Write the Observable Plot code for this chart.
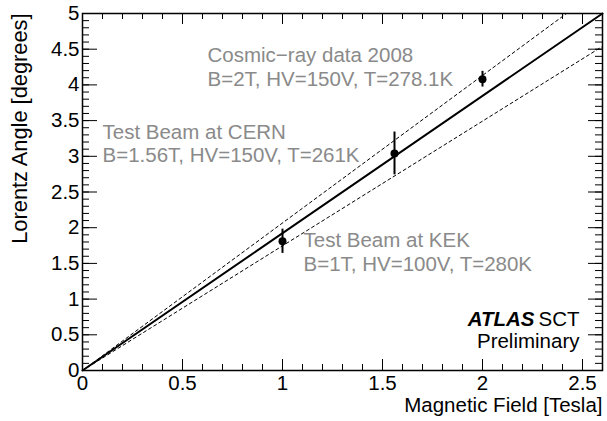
<!DOCTYPE html>
<html><head><meta charset="utf-8">
<script src="https://cdn.jsdelivr.net/npm/d3@7"></script>
<script src="https://cdn.jsdelivr.net/npm/@observablehq/plot@0.6"></script>
<style>html,body{margin:0;padding:0;background:#fff;} svg{display:block}</style>
</head><body><div id="chart"></div>
<script>
// Measurements
const fieldB = [1.0, 1.56, 2.0];
const lorentzAngle = [1.81, 3.04, 4.08];
const angleErr = [0.17, 0.30, 0.11];
// Prediction band
const fitB = [0, 2.6];
const fitAngle = [0, 5.0];
const upperB = [0, 2.42];
const upperAngle = [0, 5.0];
const lowerB = [0, 2.6];
const lowerAngle = [0, 4.54];
// Ticks
const xTicks = [0, 0.5, 1, 1.5, 2, 2.5];
const xTickLabels = ["0", "0.5", "1", "1.5", "2", "2.5"];
const yTicks = [0, 0.5, 1, 1.5, 2, 2.5, 3, 3.5, 4, 4.5, 5];
const yTickLabels = ["0", "0.5", "1", "1.5", "2", "2.5", "3", "3.5", "4", "4.5", "5"];
const xMinor = d3.range(27).map(i => i / 10);
const yMinor = d3.range(51).map(i => i / 10);
// Texts
const xTitle = "Magnetic Field [Tesla]";
const yTitle = "Lorentz Angle [degrees]";
const cosmicText = ["Cosmic\u2212ray data 2008", "B=2T, HV=150V, T=278.1K"];
const cernText = ["Test Beam at CERN", "B=1.56T, HV=150V, T=261K"];
const kekText = ["Test Beam at KEK", "B=1T, HV=100V, T=280K"];

const points = fieldB.map((b, i) => ({b, a: lorentzAngle[i], e: angleErr[i]}));
const line = (xs, ys) => xs.map((x, i) => ({x, y: ys[i]}));

const W = 607, H = 421, mL = 82, mR = 5, mT = 13, mB = 51;
const xMax = 2.6, yMax = 5;
const fw = W - mL - mR, fh = H - mT - mB;
const pxX = xMax / fw, pxY = yMax / fh; // data units per pixel (for tick lengths)
const fs = 20.5;
const gray = "#8a8a8a";

const chart = Plot.plot({
  width: W, height: H,
  marginLeft: mL, marginRight: mR, marginTop: mT, marginBottom: mB,
  x: {domain: [0, xMax]},
  y: {domain: [0, yMax]},
  style: {fontFamily: "'Liberation Sans', Arial, sans-serif", fontSize: fs + "px", background: "#fff", color: "#000"},
  marks: [
    // tick marks (inside frame, mirrored on top and right)
    Plot.ruleX(xMinor, {x: d => d, y1: 0, y2: 6 * pxY, stroke: "#000"}),
    Plot.ruleX(xTicks, {x: d => d, y1: 0, y2: 11 * pxY, stroke: "#000"}),
    Plot.ruleX(xMinor, {x: d => d, y1: yMax - 6 * pxY, y2: yMax, stroke: "#000"}),
    Plot.ruleX(xTicks, {x: d => d, y1: yMax - 11 * pxY, y2: yMax, stroke: "#000"}),
    Plot.ruleY(yMinor, {y: d => d, x1: 0, x2: 7 * pxX, stroke: "#000"}),
    Plot.ruleY(yTicks, {y: d => d, x1: 0, x2: 15 * pxX, stroke: "#000"}),
    Plot.ruleY(yMinor, {y: d => d, x1: xMax - 7 * pxX, x2: xMax, stroke: "#000"}),
    Plot.ruleY(yTicks, {y: d => d, x1: xMax - 14 * pxX, x2: xMax, stroke: "#000"}),
    Plot.axisX({ticks: xTicks, tickSize: 0, tickPadding: 5, tickFormat: d => xTickLabels[xTicks.indexOf(d)], label: null, fontSize: fs}),
    Plot.axisY({ticks: yTicks, tickSize: 0, tickPadding: 3, tickFormat: d => yTickLabels[yTicks.indexOf(d)], label: null, fontSize: fs}),
    // band and fit
    Plot.line(line(upperB, upperAngle), {x: "x", y: "y", stroke: "#000", strokeWidth: 1, strokeDasharray: "3,3"}),
    Plot.line(line(lowerB, lowerAngle), {x: "x", y: "y", stroke: "#000", strokeWidth: 1, strokeDasharray: "3,3"}),
    Plot.line(line(fitB, fitAngle), {x: "x", y: "y", stroke: "#000", strokeWidth: 2}),
    // data
    Plot.ruleX(points, {x: "b", y1: d => d.a - d.e, y2: d => d.a + d.e, stroke: "#000", strokeWidth: 2}),
    Plot.dot(points, {x: "b", y: "a", r: 4, fill: "#000", stroke: null}),
    Plot.frame({stroke: "#000", strokeWidth: 1.5}),
    // annotations
    Plot.text([cosmicText.join("\n")], {x: 0.625, y: 3.99, text: d => d, textAnchor: "start", lineAnchor: "bottom", lineHeight: 1.13, fill: gray, fontSize: fs}),
    Plot.text([cernText.join("\n")], {x: 0.10, y: 2.917, text: d => d, textAnchor: "start", lineAnchor: "bottom", lineHeight: 1.13, fill: gray, fontSize: fs}),
    Plot.text([kekText.join("\n")], {x: 1.105, y: 1.40, text: d => d, textAnchor: "start", lineAnchor: "bottom", lineHeight: 1.13, fill: gray, fontSize: fs}),
    Plot.text(["ATLAS"], {x: 2.26, y: 0.63, text: d => d, textAnchor: "end", lineAnchor: "bottom", fontWeight: "bold", fontStyle: "italic", fill: "#000", fontSize: fs}),
    Plot.text(["SCT"], {x: 2.485, y: 0.63, text: d => d, textAnchor: "end", lineAnchor: "bottom", fill: "#000", fontSize: fs}),
    Plot.text(["Preliminary"], {x: 2.485, y: 0.322, text: d => d, textAnchor: "end", lineAnchor: "bottom", fill: "#000", fontSize: fs}),
    // axis titles
    Plot.text([xTitle], {x: xMax, y: -0.588, text: d => d, textAnchor: "end", lineAnchor: "bottom", fill: "#000", fontSize: fs}),
    Plot.text([yTitle], {x: -0.31, y: yMax, text: d => d, rotate: -90, textAnchor: "end", lineAnchor: "middle", fill: "#000", fontSize: 21.8})
  ]
});
document.getElementById("chart").appendChild(chart);
</script>
</body></html>
